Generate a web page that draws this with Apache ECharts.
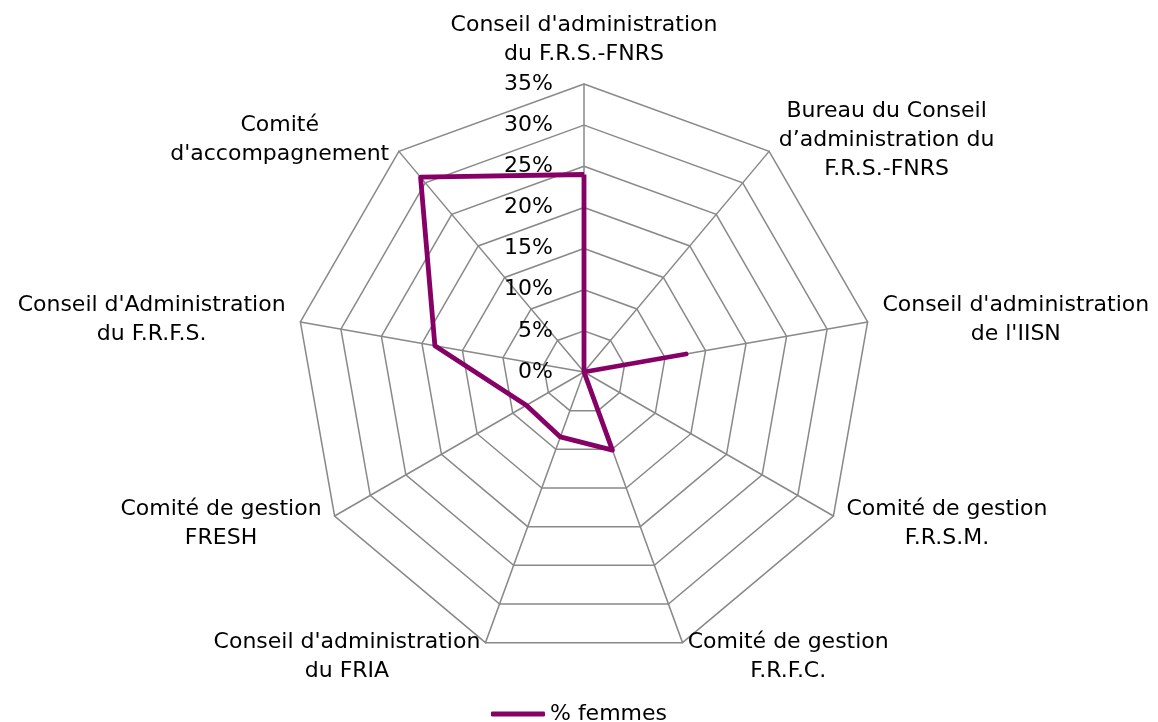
<!DOCTYPE html>
<html>
<head>
<meta charset="utf-8">
<script src="https://cdn.jsdelivr.net/npm/echarts@6/dist/echarts.min.js"></script>
<style>
  html, body { margin: 0; padding: 0; background: #fff; }
  #chart { width: 1158px; height: 722px; }
</style>
</head>
<body>
<div id="chart"></div>
<script>
// axes, clockwise from the top
const categories = [
  "Conseil d'administration\ndu F.R.S.-FNRS",
  'Bureau du Conseil\nd\u2019administration du\nF.R.S.-FNRS',
  "Conseil d'administration\nde l'IISN",
  'Comité de gestion\nF.R.S.M.',
  'Comité de gestion\nF.R.F.C.',
  "Conseil d'administration\ndu FRIA",
  'Comité de gestion\nFRESH',
  "Conseil d'Administration\ndu F.R.F.S.",
  "Comité\nd'accompagnement",
]
const femmes = [24, 0, 12.6, 0, 10.1, 8.4, 8.1, 18.4, 30.9]
const axisMax = 35
const axisSplits = 7

const font = 'DejaVu Sans'
const purple = '#860065'
const gridColor = '#898989'

// echarts lays radar axes out counter-clockwise, so keep the first one on top
// and walk the rest backwards
const order = [0, ...categories.map((_, i) => i).slice(1).reverse()]

const chart = echarts.init(document.getElementById('chart'))

chart.setOption({
  animation: false,
  textStyle: { fontFamily: font },
  legend: {
    top: 698,
    left: 'center',
    icon: 'roundRect',
    itemWidth: 54,
    itemHeight: 5,
    itemGap: 10,
    textStyle: { fontSize: 22, color: '#000', fontFamily: font },
    data: ['% femmes'],
  },
  radar: {
    center: [584, 372],
    radius: 288,
    startAngle: 90,
    shape: 'polygon',
    splitNumber: axisSplits,
    nameGap: 15,
    axisName: {
      color: '#000',
      fontFamily: font,
      fontSize: 22,
      formatter: (name) => name.split('\n').map(l => `{c|${l}}`).join('\n'),
      rich: {
        c: { align: 'center', fontSize: 22, lineHeight: 29, color: '#000', fontFamily: font },
      },
    },
    axisLine: { lineStyle: { color: gridColor, width: 1.5 } },
    splitLine: { lineStyle: { color: gridColor, width: 1.5 } },
    splitArea: { show: false },
    axisTick: { show: false },
    axisLabel: {
      show: false,
      showMinLabel: true,
      showMaxLabel: true,
      formatter: '{value}%',
      color: '#000',
      fontSize: 22,
      fontFamily: font,
      margin: 31,
    },
    indicator: order.map((i) => ({
      name: categories[i],
      min: 0,
      max: axisMax,
      axisLabel: i === 0 ? { show: true } : undefined,
    })),
  },
  series: [
    {
      name: '% femmes',
      type: 'radar',
      symbol: 'none',
      lineStyle: { color: purple, width: 4.8 },
      itemStyle: { color: purple },
      data: [{ value: order.map((i) => femmes[i]), name: '% femmes' }],
    },
  ],
})
</script>
</body>
</html>
